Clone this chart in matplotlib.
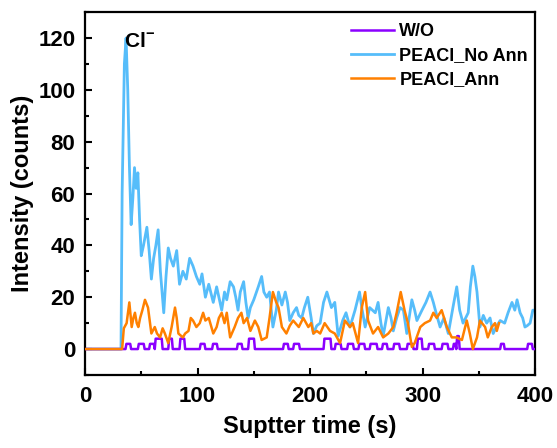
"""Cl- depth profile: intensity vs sputter time for three samples."""

import matplotlib

matplotlib.use("Agg")
import matplotlib.pyplot as plt
from matplotlib.ticker import MultipleLocator

plt.rcParams["font.family"] = ["Liberation Sans", "DejaVu Sans"]
plt.rcParams["font.weight"] = "bold"
plt.rcParams["mathtext.fontset"] = "custom"
plt.rcParams["mathtext.rm"] = "Liberation Sans:bold"
plt.rcParams["mathtext.bf"] = "Liberation Sans:bold"

# W/O: square pulses on a zero baseline (start s, end s, height)
wo_start = [36, 47, 57, 62, 74, 84, 102, 113, 135, 145, 176, 185, 212, 222, 233, 243,
            253, 264, 274, 286, 295, 305, 317, 327, 330, 369, 393]
wo_end = [41, 53, 62, 69, 78, 89, 107, 118, 140, 151, 181, 191, 219, 228, 239, 249,
          260, 269, 280, 292, 300, 311, 323, 330, 333, 373, 398]
wo_height = [2, 2, 2, 4, 4, 4, 2, 2, 2, 4, 2, 2, 4, 2, 2, 2,
             2, 2, 2, 2, 4, 2, 2, 2, 5, 2, 2]

# PEACl_No Ann
noann_t = [0, 32, 33, 35, 36.5, 38, 39.5, 41, 42.5, 44, 45.5, 47, 48.5, 50, 52, 55, 57, 59,
           61, 63, 65, 67, 70, 72, 74, 76, 78.5, 81.5, 84, 87, 90, 93, 96, 99, 102, 104,
           107, 110, 114, 117, 121.5, 124, 126, 129, 132, 134, 136, 138, 141, 143, 145,
           147, 150, 154, 157, 159, 161.5, 164, 167, 170, 172, 175, 178, 180, 182, 185,
           188, 190, 192.6, 195, 198, 201, 203, 206, 209, 212, 215, 219, 222, 225, 229,
           232, 235.5, 240, 244, 246, 249, 253, 258, 260.5, 263, 265, 269.6, 272, 274,
           277, 280, 283, 286, 290.5, 293, 295, 299.5, 303, 306.7, 309.6, 312, 315.6,
           319, 322.9, 327, 330.4, 333, 336, 340.6, 342.5, 344.7, 346.5, 348.4, 351, 354,
           357, 360, 362.8, 366, 369, 373, 376, 379.5, 382, 384, 386.7, 389, 391, 393,
           395.6, 398, 400]
noann_y = [0, 0, 60, 110, 120, 100, 70, 48, 58, 70, 62, 68, 50, 36, 40, 47, 38, 27,
           35, 40, 46, 30, 14, 28, 39, 35, 32, 38, 25, 30, 27, 35, 32, 28, 25, 29,
           20, 25, 18, 24, 15, 22, 19, 26, 24, 20, 15, 22, 26, 18, 12,
           16, 19, 24, 28, 22, 20, 22, 8.5, 15, 22, 17, 22, 18, 11, 14,
           16, 13, 12, 16, 20, 12, 6, 9, 10, 18, 22, 16, 18, 5, 11,
           14, 8.5, 15, 22, 16, 8.5, 16, 14, 18, 10, 5, 16, 12, 7,
           12, 16, 15, 6, 19, 15, 11, 15, 18, 22, 18, 14, 8.5,
           12, 6, 16, 24, 15, 10, 14, 24, 32, 28, 22, 8.5, 13,
           10, 12, 6, 9, 11, 10, 14, 18, 15, 19, 14, 12, 8.5, 9,
           10, 15, 15]

# PEACl_Ann
ann_t = [0, 33, 34.5, 37, 39.4, 41.5, 43, 44.4, 46, 47.4, 49, 51, 53.3, 56, 59, 62, 64,
         66.7, 69, 71, 74, 77, 80, 81.5, 83, 87, 89, 92, 94, 96, 99, 102, 105, 107, 110,
         114, 117, 119, 121.5, 124, 126, 129, 133, 136, 139, 141, 144, 147, 151, 154,
         157, 161.5, 164, 167, 170, 172, 175, 179, 182, 185, 190, 194, 198.5, 201, 203,
         206, 209, 213, 217.8, 222, 226.7, 231, 235.5, 238, 242.7, 246, 249, 251.6, 256,
         260.5, 265, 269.6, 274, 277, 280.6, 284, 287, 290.5, 293, 298, 302, 306.7,
         309.6, 312.6, 317, 321.6, 326, 330, 335, 339.3, 342, 344.7, 348.4, 351, 355.6,
         358, 361.5, 364.4, 366, 368]
ann_y = [0, 0, 8, 10, 18, 8.5, 12, 14, 10, 8.5, 12, 15, 19, 16, 6, 8.5, 6,
         4.5, 8, 6, 2.3, 8.5, 16, 12, 6, 4.5, 6, 7, 12, 11, 8.5, 10, 14, 11, 12,
         6, 8.5, 12, 14, 10, 14, 4.5, 8.5, 12, 14, 10, 12, 7, 11, 8.5,
         3.5, 4.5, 12, 22, 18, 16, 8.5, 6, 9, 11, 8.5, 12, 8.5, 10, 6,
         7, 6, 10, 7, 6, 2.3, 11, 8.5, 10, 2.3, 16, 22, 11, 6,
         8.5, 4.5, 6, 8.5, 14, 22, 15, 10, 0.8, 2.3, 8.5, 10, 11,
         14, 12, 15, 8.5, 4.5, 4.5, 3.5, 11, 6, 0, 4.5, 11, 8.5,
         4.5, 8.5, 10, 7, 10]


def pulse_trace(starts, ends, heights, t0=0, t1=400):
    t, y = [t0], [0]
    for s, e, h in zip(starts, ends, heights):
        t += [s, s + 0.8, e - 0.8, e]
        y += [y[-1] if t[-1] == s else 0, h, h, 0]
    t.append(t1)
    y.append(0)
    return t, y


wo_t, wo_y = pulse_trace(wo_start, wo_end, wo_height)

fig = plt.figure(figsize=(5.57, 4.48), dpi=100)
ax = fig.add_axes([0.1526, 0.163, 0.808, 0.81])

ax.plot(noann_t, noann_y, color="#56BDFA", lw=2.0, label="PEACl_No Ann", zorder=2)
ax.plot(wo_t, wo_y, color="#8B00FF", lw=1.8, label="W/O", zorder=3)
ax.plot(ann_t, ann_y, color="#FF8000", lw=1.8, label="PEACl_Ann", zorder=4)

ax.text(35, 116.5, r"Cl$^{-}$", fontsize=15, fontweight="bold", va="baseline")

ax.set_xlim(0, 400)
ax.set_ylim(-10, 130)
ax.xaxis.set_major_locator(MultipleLocator(100))
ax.xaxis.set_minor_locator(MultipleLocator(50))
ax.yaxis.set_major_locator(MultipleLocator(20))
ax.yaxis.set_minor_locator(MultipleLocator(10))
ax.tick_params(which="both", direction="in", width=1.5, labelsize=16)
ax.tick_params(axis="x", pad=8)
ax.tick_params(axis="y", pad=7)
ax.tick_params(which="major", length=5)
ax.tick_params(which="minor", length=3)
for sp in ax.spines.values():
    sp.set_linewidth(1.6)

ax.set_xlabel("Suptter time (s)", fontsize=17, fontweight="bold", labelpad=6)
ax.set_ylabel("Intensity (counts)", fontsize=17, fontweight="bold", labelpad=3)

h, l = ax.get_legend_handles_labels()
order = [1, 0, 2]
ax.legend([h[i] for i in order], [l[i] for i in order], loc="upper right", frameon=False,
          prop={"size": 13, "weight": "bold"}, handlelength=2.4, handletextpad=0.3,
          labelspacing=0.4, borderpad=0, borderaxespad=0,
          bbox_to_anchor=(528 / 557, 425 / 448), bbox_transform=fig.transFigure)

fig.savefig("out.png", dpi=100)
